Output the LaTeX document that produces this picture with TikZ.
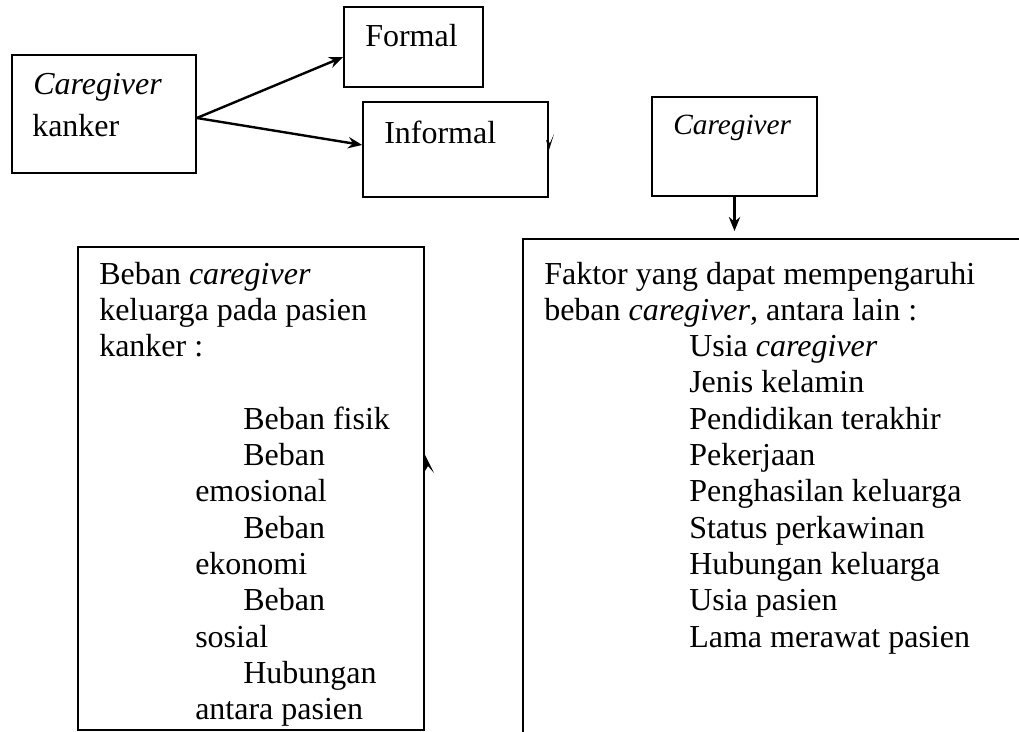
\documentclass[tikz,border=0pt]{standalone}
\usepackage{fontspec}
\setmainfont{Liberation Serif}
\usetikzlibrary{arrows.meta}
\begin{document}
\begin{tikzpicture}[x=0.75pt,y=-0.75pt,
  box/.style={draw,line width=1.3pt,inner sep=0pt,rectangle},
  txt/.style={anchor=base west,inner sep=0pt,font=\fontsize{24}{28}\selectfont},
  smalltxt/.style={anchor=base west,inner sep=0pt,font=\fontsize{22}{26}\selectfont},
  conn/.style={line width=1.8pt,-{Stealth[length=10.5pt,width=8.5pt,inset=3.5pt]}},
  stray/.style={fill=black}]
\clip (0,0) rectangle (1019,731);
% boxes
\node[box,minimum width=138pt,minimum height=88.5pt] (box1) at (104,114) {};
\node[box,minimum width=104.25pt,minimum height=60pt] (formal) at (413.5,47) {};
\node[box,minimum width=138.75pt,minimum height=71.25pt] (informal) at (455.5,149.5) {};
\node[box,minimum width=123.75pt,minimum height=74.25pt] (cg) at (734.5,146.5) {};
\node[box,minimum width=259.5pt,minimum height=362.25pt] (beban) at (251,488.5) {};
\node[box,minimum width=387.75pt,minimum height=390.75pt] (faktor) at (781.5,499.5) {};
% connectors
\coordinate (cgtip) at (734.5,231);
\draw[conn] ([yshift=-3pt]box1.east) -- ([yshift=-7.5pt]formal.west);
\draw[conn] ([yshift=-3pt]box1.east) -- ([yshift=3.4pt]informal.west);
\draw[conn] (cg.south) -- (cgtip);
% stray arrowhead fragments
\fill[stray] (554,134) -- (549,150) -- (546,140) -- (550,143) -- cycle;
\fill[stray] (425,455) -- (434,473) -- (428,466) -- (425,471) -- cycle;
% texts
\node[txt] (t1a) at (33,95) {\textit{Caregiver}};
\node[txt] (t1b) at (32,137) {kanker};
\node[txt] (tf) at (365,47) {Formal};
\node[txt] (ti) at (384,143) {Informal};
\node[smalltxt] (tc) at (673,134) {\textit{Caregiver}};
% left box
\node[txt] (b1) at (99,284) {Beban \textit{caregiver}};
\node[txt] (b2) at (99,320.3) {keluarga pada pasien};
\node[txt] (b3) at (99,356.6) {kanker :};
\node[txt] (b4) at (243,429.2) {Beban fisik};
\node[txt] (b5) at (243,465.5) {Beban};
\node[txt] (b6) at (195,501.8) {emosional};
\node[txt] (b7) at (243,538.1) {Beban};
\node[txt] (b8) at (195,574.4) {ekonomi};
\node[txt] (b9) at (243,610.7) {Beban};
\node[txt] (b10) at (195,647) {sosial};
\node[txt] (b11) at (243,683.3) {Hubungan};
\node[txt] (b12) at (195,719.6) {antara pasien};
% right box
\node[txt] (f1) at (544,284) {Faktor yang dapat mempengaruhi};
\node[txt] (f2) at (544,320.3) {beban \textit{caregiver}, antara lain :};
\node[txt] (f3) at (689,356.6) {Usia \textit{caregiver}};
\node[txt] (f4) at (689,392.9) {Jenis kelamin};
\node[txt] (f5) at (689,429.2) {Pendidikan terakhir};
\node[txt] (f6) at (689,465.5) {Pekerjaan};
\node[txt] (f7) at (689,501.8) {Penghasilan keluarga};
\node[txt] (f8) at (689,538.1) {Status perkawinan};
\node[txt] (f9) at (689,574.4) {Hubungan keluarga};
\node[txt] (f10) at (689,610.7) {Usia pasien};
\node[txt] (f11) at (689,647) {Lama merawat pasien};
\end{tikzpicture}
\end{document}
